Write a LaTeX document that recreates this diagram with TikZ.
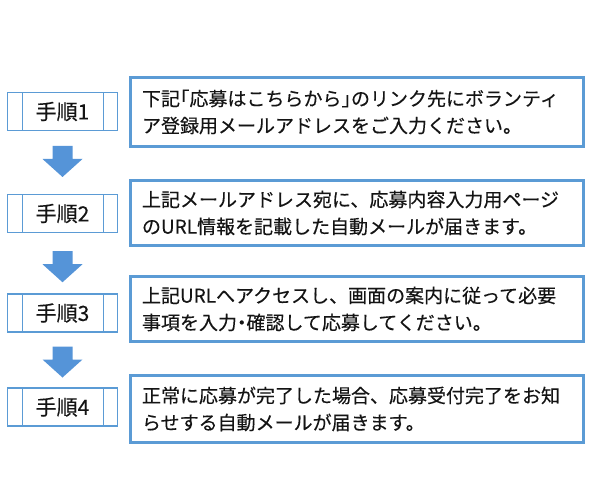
\documentclass[tikz,border=0pt]{standalone}
\usepackage{fontspec}
\setmainfont{Noto Sans CJK JP}[FakeBold=0.25]
\usetikzlibrary{calc}
\definecolor{boxblue}{RGB}{91,155,213}
\definecolor{arrowblue}{RGB}{85,148,216}
\definecolor{txt}{RGB}{20,20,20}
\newcommand{\hw}[1]{{\addfontfeature{CharacterWidth=AlternateHalf}#1}}
\tikzset{
  stepbox/.style={draw=boxblue, line width=1.5bp, minimum width=110bp, minimum height=38bp,
    inner sep=0pt, text=txt, font=\fontsize{21bp}{24bp}\selectfont,
    path picture={
      \draw[boxblue, line width=1.5bp] ([xshift=15bp]path picture bounding box.north west) -- ([xshift=15bp]path picture bounding box.south west);
      \draw[boxblue, line width=1.5bp] ([xshift=-14bp]path picture bounding box.north east) -- ([xshift=-14bp]path picture bounding box.south east);
    }},
  descbox/.style={draw=boxblue, line width=3bp, minimum width=453bp, text width=430bp,
    inner xsep=11.5bp, inner ysep=0pt, align=left, text=txt,
    font=\fontsize{19bp}{27bp}\selectfont},
  blockarrow/.style={fill=arrowblue, draw=none}
}
\newcommand{\blockarr}[1]{%
  \fill[blockarrow] ($(#1)+(-10,-15.5)$) -- ($(#1)+(10,-15.5)$) -- ($(#1)+(10,-2.5)$) -- ($(#1)+(20,-2.5)$)
    -- ($(#1)+(0,15.5)$) -- ($(#1)+(-20,-2.5)$) -- ($(#1)+(-10,-2.5)$) -- cycle;}
\begin{document}
\begin{tikzpicture}[x=1bp,y=-1bp]
\fill[white] (0,0) rectangle (590,497);
\useasboundingbox (0,0) rectangle (590,497);

\node[stepbox] (l1) at (62.5,111.5) {手順1};
\node[stepbox] (l2) at (62.5,213.5) {手順2};
\node[stepbox] (l3) at (62.5,313) {手順3};
\node[stepbox] (l4) at (62.5,407) {手順4};

\node[descbox, minimum height=69bp] (b1) at (357,112) {下記\hw{「}応募はこちらから\hw{」}のリンク先にボランティ\\ア登録用メールアドレスをご入力ください。};
\node[descbox, minimum height=65bp] (b2) at (357,213) {上記メールアドレス宛に、応募内容入力用ページ\\のURL情報を記載した自動メールが届きます。};
\node[descbox, minimum height=65bp] (b3) at (357,309) {上記URLへアクセスし、画面の案内に従って必要\\事項を入力\hw{・}確認して応募してください。};
\node[descbox, minimum height=67bp] (b4) at (357,409) {正常に応募が完了した場合、応募受付完了をお知\\らせする自動メールが届きます。};

\coordinate (a1) at ($(l1.south)!0.484!(l2.north)$);
\coordinate (a2) at ($(l2.south)!0.558!(l3.north)$);
\coordinate (a3) at ($(l3.south)!0.537!(l4.north)$);
\blockarr{a1}
\blockarr{a2}
\blockarr{a3}
\end{tikzpicture}
\end{document}
